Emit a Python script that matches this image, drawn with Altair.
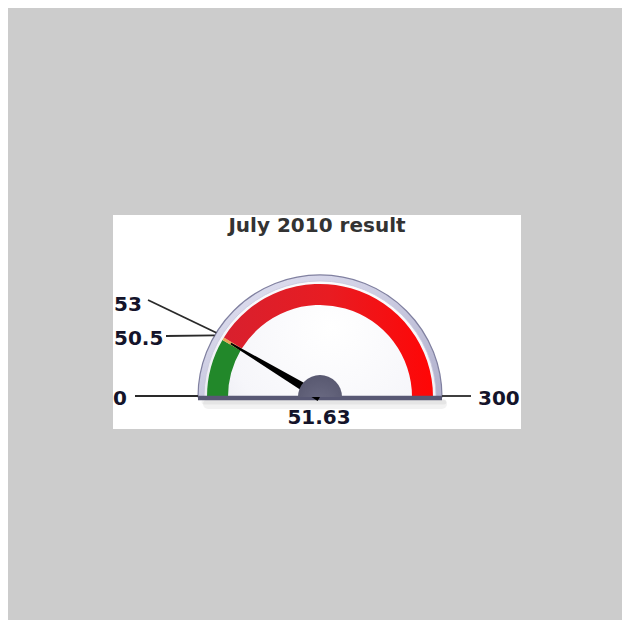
import math
import altair as alt
import pandas as pd

# ---------------- data ----------------
title_text = "July 2010 result"
gauge_min = 0
gauge_max = 300
band_names = ["low", "marker", "high"]
band_start = [0, 50.5, 53]
band_end = [50.5, 53, 300]
needle_value = 51.63
tick_values = [0, 50.5, 53, 300]
tick_labels = ["0", "50.5", "53", "300"]

# ---------------- layout (view pixels) ----------------
W, H = 408, 214
CX, CY = 207, 182
R_RIM_OUT, R_RIM_IN = 122, 116
R_BAND_OUT, R_BAND_IN = 113, 92
R_HUB = 22
NEEDLE_LEN = 104
LABEL_FONT = "DejaVu Sans"
# label text anchor (tx, ty) and leader-line start (lx, ly)
label_layout = {
    "0": (0, 184, 22, 181),
    "50.5": (1, 124, 53, 121),
    "53": (1, 90, 35, 85),
    "300": (365, 184, 358, 181),
}


def rim_point(v, r):
    a = (v - gauge_min) / (gauge_max - gauge_min) * math.pi
    return CX - r * math.cos(a), CY - r * math.sin(a)


theta_scale = alt.Scale(domain=[gauge_min, gauge_max],
                        range=[1.5 * math.pi, 2.5 * math.pi])

full_df = pd.DataFrame({"start": [gauge_min], "end": [gauge_max]})
bands_df = pd.DataFrame({"name": band_names, "start": band_start, "end": band_end})
needle_df = pd.DataFrame({"value": [needle_value], "label": [f"{needle_value:.2f}"]})

rows = []
for v, lab in zip(tick_values, tick_labels):
    tx, ty, lx, ly = label_layout[lab]
    px, py = rim_point(v, R_RIM_OUT)
    if v in (gauge_min, gauge_max):
        py = ly
    rows.append(dict(label=lab, tx=tx, ty=ty, lx=lx, ly=ly, px=px, py=py))
ticks_df = pd.DataFrame(rows)
title_df = pd.DataFrame({"t": [title_text]})


def arc_layer(df, r_out, r_in, **mark):
    return alt.Chart(df).mark_arc(**mark).encode(
        x=alt.value(CX), y=alt.value(CY),
        theta=alt.Theta("start:Q", scale=theta_scale, stack=None),
        theta2="end:Q",
        radius=alt.value(r_out), radius2=alt.value(r_in),
    )


shadow1 = alt.Chart(full_df).mark_rule(color="black", opacity=0.05, strokeWidth=10,
                                       strokeCap="round").encode(
    x=alt.value(CX - R_RIM_OUT + 10), x2=alt.value(CX + R_RIM_OUT),
    y=alt.value(CY + 7),
)
shadow2 = alt.Chart(full_df).mark_rule(color="black", opacity=0.05, strokeWidth=5,
                                       strokeCap="round").encode(
    x=alt.value(CX - R_RIM_OUT + 6), x2=alt.value(CX + R_RIM_OUT + 2),
    y=alt.value(CY + 5),
)

rim = arc_layer(full_df, R_RIM_OUT, 0,
                fill=alt.LinearGradient(gradient="linear",
                                        stops=[alt.GradientStop(color="#e4e4f4", offset=0),
                                               alt.GradientStop(color="#b0b0cc", offset=1)],
                                        x1=0, x2=1, y1=0, y2=1),
                stroke="#8080a0", strokeWidth=1.2)

face = arc_layer(full_df, R_RIM_IN, 0,
                 fill=alt.RadialGradient(gradient="radial",
                                         stops=[alt.GradientStop(color="#ffffff", offset=0),
                                                alt.GradientStop(color="#f6f6fa", offset=0.6),
                                                alt.GradientStop(color="#e2e2ec", offset=1)],
                                         x1=0.55, y1=0.45, x2=0.55, y2=0.45, r1=0, r2=0.75),
                 stroke="#c8c8dc", strokeWidth=0.8)

green = arc_layer(bands_df, R_BAND_OUT, R_BAND_IN, fill="#22882a").transform_filter(
    alt.datum.name == "low")
orange = arc_layer(bands_df, R_BAND_OUT, R_BAND_IN, fill="#e8a552").transform_filter(
    alt.datum.name == "marker")
red = arc_layer(bands_df, R_BAND_OUT, R_BAND_IN,
                fill=alt.LinearGradient(gradient="linear",
                                        stops=[alt.GradientStop(color="#d8202e", offset=0),
                                               alt.GradientStop(color="#e81c22", offset=0.5),
                                               alt.GradientStop(color="#ff0606", offset=1)],
                                        x1=0, x2=1, y1=0, y2=0)).transform_filter(
    alt.datum.name == "high")

base = alt.Chart(full_df).mark_rule(color="#585874", strokeWidth=4.5).encode(
    x=alt.value(CX - R_RIM_OUT), x2=alt.value(CX + R_RIM_OUT), y=alt.value(CY + 1),
)

leaders = alt.Chart(ticks_df).mark_rule(color="#2a2a2a", strokeWidth=1.8).encode(
    x=alt.X("lx:Q", scale=None), y=alt.Y("ly:Q", scale=None),
    x2="px:Q", y2="py:Q",
)

needle_path = "M-0.045,0 L-0.008,-1 L0.008,-1 L0.045,0 Z"
needle = alt.Chart(needle_df).mark_point(
    shape=needle_path, filled=True, fill="black", opacity=1, strokeWidth=0,
    size=(2 * NEEDLE_LEN) ** 2,
).encode(
    x=alt.value(CX), y=alt.value(CY),
    angle=alt.Angle("value:Q", scale=alt.Scale(domain=[gauge_min, gauge_max], range=[270, 450])),
)

hub = arc_layer(full_df, R_HUB, 0,
                fill=alt.RadialGradient(gradient="radial",
                                        stops=[alt.GradientStop(color="#6c6c84", offset=0),
                                               alt.GradientStop(color="#4e4e66", offset=1)],
                                        x1=0.5, y1=0.9, x2=0.5, y2=0.9, r1=0, r2=1))

tick_text = alt.Chart(ticks_df).mark_text(
    font=LABEL_FONT, fontSize=20, fontWeight="bold", color="#14142a",
    align="left", baseline="middle",
).encode(x=alt.X("tx:Q", scale=None), y=alt.Y("ty:Q", scale=None), text="label:N")

value_text = alt.Chart(needle_df).mark_text(
    font=LABEL_FONT, fontSize=20, fontWeight="bold", color="#14142a",
    align="center", baseline="middle",
).encode(x=alt.value(CX - 1), y=alt.value(CY + 21), text="label:N")

title = alt.Chart(title_df).mark_text(
    font=LABEL_FONT, fontSize=20, fontWeight="bold", color="#333333",
    align="center", baseline="middle",
).encode(x=alt.value(W / 2), y=alt.value(11), text="t:N")

chart = alt.layer(
    shadow1, shadow2, rim, face, green, orange, red, base, leaders, needle, hub,
    tick_text, value_text, title,
).properties(
    width=W, height=H,
    padding={"left": 105, "top": 207, "right": 101, "bottom": 191},
    autosize=alt.AutoSizeParams(type="none"),
    background="#cccccc",
).configure_view(fill="white", stroke=None)

chart.save("out.html", embed_options={"renderer": "svg", "actions": False})
